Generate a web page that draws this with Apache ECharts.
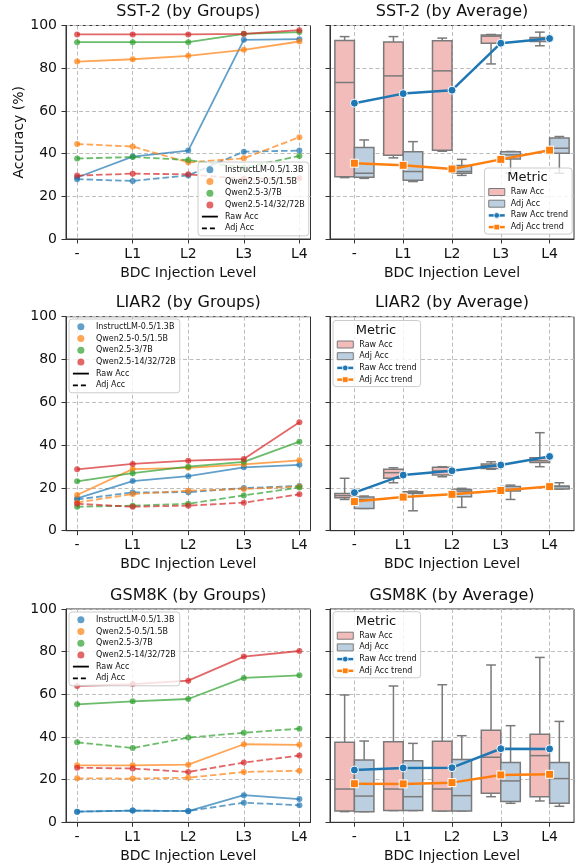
<!DOCTYPE html>
<html><head><meta charset="utf-8">
<script src="https://cdn.jsdelivr.net/npm/echarts@6/dist/echarts.min.js"></script>
<style>html,body{margin:0;padding:0;background:#fff}#c{width:575px;height:864px}</style>
</head><body><div id="c"></div><script>
// ---------- data ----------
const LEVELS = ['-', 'L1', 'L2', 'L3', 'L4'];
const GROUPS = ['InstructLM-0.5/1.3B', 'Qwen2.5-0.5/1.5B', 'Qwen2.5-3/7B', 'Qwen2.5-14/32/72B'];
const Y_TICKS = [0, 20, 40, 60, 80, 100];
const DATASETS = ['SST-2', 'LIAR2', 'GSM8K'];

// SST-2 by groups
const sst2RawInstructLM = [28.8, 38.6, 41.4, 93.3, 93.6];
const sst2RawQwen05 = [83.1, 84.2, 85.8, 88.6, 92.5];
const sst2RawQwen3 = [92.2, 92.2, 92.2, 96.1, 96.9];
const sst2RawQwen14 = [95.8, 95.8, 95.8, 96.1, 97.8];
const sst2AdjInstructLM = [28.0, 27.2, 29.8, 40.9, 41.4];
const sst2AdjQwen05 = [44.5, 43.3, 35.9, 37.8, 47.7];
const sst2AdjQwen3 = [37.7, 38.4, 37.0, 33.4, 38.9];
const sst2AdjQwen14 = [29.7, 30.6, 30.3, 28.2, 28.5];
// LIAR2 by groups
const liarRawInstructLM = [15.1, 23.2, 25.5, 29.6, 30.8];
const liarRawQwen05 = [16.7, 28.8, 29.4, 31.0, 32.9];
const liarRawQwen3 = [23.1, 26.9, 29.9, 32.2, 41.6];
const liarRawQwen14 = [28.7, 31.2, 32.7, 33.5, 50.7];
const liarAdjInstructLM = [14.6, 17.9, 18.0, 19.9, 20.9];
const liarAdjQwen05 = [13.2, 17.1, 18.7, 19.5, 20.6];
const liarAdjQwen3 = [11.2, 11.7, 12.6, 16.5, 20.2];
const liarAdjQwen14 = [12.6, 11.2, 11.7, 13.1, 17.0];
// GSM8K by groups
const gsmRawInstructLM = [5.0, 5.5, 5.2, 12.7, 10.9];
const gsmRawQwen05 = [26.7, 26.7, 27.0, 36.6, 36.3];
const gsmRawQwen3 = [55.3, 56.7, 57.8, 67.7, 68.9];
const gsmRawQwen14 = [63.9, 64.8, 66.4, 77.7, 80.3];
const gsmAdjInstructLM = [5.0, 5.5, 5.3, 9.2, 8.0];
const gsmAdjQwen05 = [20.6, 20.5, 20.9, 23.6, 24.2];
const gsmAdjQwen3 = [37.5, 34.8, 39.7, 42.0, 43.9];
const gsmAdjQwen14 = [25.6, 25.2, 23.6, 28.0, 31.3];

// box statistics per level: [min, Q1, median, Q3, max]
const sst2RawBox = [[28.75, 29.2, 73.3, 93.0, 94.8], [38.0, 39.2, 76.4, 92.3, 94.8], [41.1, 41.6, 78.75, 92.8, 94.1], [82.0, 91.7, 95.0, 95.5, 95.8], [90.5, 92.5, 93.6, 94.4, 96.9]];
const sst2AdjBox = [[28.4, 28.9, 30.8, 42.8, 46.4], [26.9, 27.5, 31.6, 40.9, 45.6], [29.8, 30.8, 31.6, 34.4, 37.3], [30.8, 37.5, 39.4, 40.9, 41.0], [30.8, 40.2, 42.5, 47.3, 48.0]];
const liarRawBox = [[14.6, 15.4, 16.4, 17.4, 24.5], [22.4, 24.5, 27.1, 28.7, 29.4], [25.2, 26.0, 27.9, 29.6, 29.9], [28.7, 29.1, 30.4, 31.2, 32.2], [29.9, 31.9, 32.7, 34.1, 45.8]];
const liarAdjBox = [[10.4, 10.4, 14.6, 15.7, 16.2], [9.3, 17.4, 17.9, 18.2, 18.5], [10.9, 15.9, 18.5, 19.3, 19.8], [14.6, 18.5, 19.3, 20.6, 21.3], [19.5, 19.5, 20.6, 20.9, 22.4]];
const gsmRawBox = [[5.0, 5.3, 15.6, 37.5, 59.7], [5.5, 5.5, 15.6, 37.8, 63.9], [5.3, 5.3, 15.6, 38.0, 64.5], [12.0, 13.6, 30.5, 43.1, 73.75], [10.0, 12.0, 31.25, 41.25, 77.3]];
const gsmAdjBox = [[5.0, 5.0, 12.3, 29.2, 38.1], [5.5, 5.5, 12.0, 28.9, 37.0], [5.3, 5.3, 12.5, 29.5, 40.6], [8.9, 9.7, 19.4, 28.0, 45.3], [7.5, 8.9, 20.5, 28.0, 47.3]];

// average trends
const sst2RawTrend = [63.6, 68.1, 69.7, 91.7, 93.9];
const sst2AdjTrend = [35.5, 34.5, 32.8, 37.3, 41.6];
const liarRawTrend = [17.8, 26.0, 28.0, 30.7, 34.7];
const liarAdjTrend = [13.6, 15.7, 17.0, 18.8, 20.6];
const gsmRawTrend = [24.5, 25.5, 25.6, 34.5, 34.4];
const gsmAdjTrend = [18.1, 18.0, 18.6, 22.2, 22.5];

// ---------- assembly ----------
const PANELS = [
  { raw: [sst2RawInstructLM, sst2RawQwen05, sst2RawQwen3, sst2RawQwen14], adj: [sst2AdjInstructLM, sst2AdjQwen05, sst2AdjQwen3, sst2AdjQwen14], rawBox: sst2RawBox, adjBox: sst2AdjBox, rawTrend: sst2RawTrend, adjTrend: sst2AdjTrend },
  { raw: [liarRawInstructLM, liarRawQwen05, liarRawQwen3, liarRawQwen14], adj: [liarAdjInstructLM, liarAdjQwen05, liarAdjQwen3, liarAdjQwen14], rawBox: liarRawBox, adjBox: liarAdjBox, rawTrend: liarRawTrend, adjTrend: liarAdjTrend },
  { raw: [gsmRawInstructLM, gsmRawQwen05, gsmRawQwen3, gsmRawQwen14], adj: [gsmAdjInstructLM, gsmAdjQwen05, gsmAdjQwen3, gsmAdjQwen14], rawBox: gsmRawBox, adjBox: gsmAdjBox, rawTrend: gsmRawTrend, adjTrend: gsmAdjTrend }
];

// ---------- style / layout ----------
const FONT = 'DejaVu Sans';
const TXT = '#111';
const COLORS = ['#1f77b4', '#ff7f0e', '#2ca02c', '#d62728'];
const RAW_FILL = '#f2bcbb', ADJ_FILL = '#bccfe0', EDGE = '#7a7a7a';
const DODGE = 0.2, BOX_W = 0.4;
const ROW_TOP = [25.5, 316.7, 609];
const ROW_H = [213.5, 214, 213.3];
const COL_X = [66, 330];
const COL_W = [244.5, 244];
const LEFT_LEGEND_TOP = [162, 319, 612];
const LEFT_LEGEND_LEFT = [198, 69, 69];
const RIGHT_LEGEND_TOP = [168, 320.5, 611.7];
const RIGHT_LEGEND_LEFT = [484.5, 333, 333];
const RIGHT_LEGEND_W = 86;

const grids = [], xAxes = [], yAxes = [], series = [], titles = [], legends = [], graphics = [];
const gridLine = { show: true, lineStyle: { color: '#bdbdbd', width: 1, type: [4, 2.5] } };
const tickStyle = { show: true, inside: false, length: 4.5, lineStyle: { color: '#333', width: 1 } };

function renderBox(params, api) {
  const x = api.value(0);
  const mn = api.coord([x, api.value(1)]);
  const q1 = api.coord([x, api.value(2)]);
  const md = api.coord([x, api.value(3)]);
  const q3 = api.coord([x, api.value(4)]);
  const mx = api.coord([x, api.value(5)]);
  const w = api.size([BOX_W, 0])[0];
  const cx = mn[0];
  const st = { stroke: EDGE, lineWidth: 1.5 };
  return {
    type: 'group', children: [
      { type: 'line', shape: { x1: cx, y1: mn[1], x2: cx, y2: q1[1] }, style: st },
      { type: 'line', shape: { x1: cx, y1: q3[1], x2: cx, y2: mx[1] }, style: st },
      { type: 'line', shape: { x1: cx - w / 4, y1: mn[1], x2: cx + w / 4, y2: mn[1] }, style: st },
      { type: 'line', shape: { x1: cx - w / 4, y1: mx[1], x2: cx + w / 4, y2: mx[1] }, style: st },
      { type: 'rect', shape: { x: cx - w / 2, y: q3[1], width: w, height: q1[1] - q3[1] }, style: { fill: api.visual('color'), stroke: EDGE, lineWidth: 1.5 } },
      { type: 'line', shape: { x1: cx - w / 2, y1: md[1], x2: cx + w / 2, y2: md[1] }, style: st }
    ]
  };
}

for (let r = 0; r < 3; r++) {
  const P = PANELS[r];
  for (let c = 0; c < 2; c++) {
    const gi = r * 2 + c;
    grids.push({ left: COL_X[c], top: ROW_TOP[r], width: COL_W[c], height: ROW_H[r], show: true, borderColor: '#333', borderWidth: 1, backgroundColor: 'transparent', containLabel: false, outerBoundsMode: 'none' });
    xAxes.push({
      gridIndex: gi, type: 'value', min: c === 0 ? -0.2 : -0.5, max: c === 0 ? 4.2 : 4.5,
      name: 'BDC Injection Level', nameLocation: 'middle', nameGap: 27,
      nameTextStyle: { fontFamily: FONT, fontSize: 14, color: TXT },
      axisLine: { show: true, onZero: false, lineStyle: { color: '#333', width: 1 } },
      axisTick: Object.assign({ customValues: [0, 1, 2, 3, 4] }, tickStyle),
      axisLabel: { customValues: [0, 1, 2, 3, 4], formatter: v => LEVELS[Math.round(v)], fontFamily: FONT, fontSize: 14, color: TXT, margin: 8 },
      splitLine: gridLine
    });
    yAxes.push({
      gridIndex: gi, type: 'value', min: 0, max: 100, interval: 20,
      name: gi === 0 ? 'Accuracy (%)' : '', nameLocation: 'middle', nameGap: 40,
      nameTextStyle: { fontFamily: FONT, fontSize: 14, color: TXT },
      axisLine: { show: true, onZero: false, lineStyle: { color: '#333', width: 1 } },
      axisTick: tickStyle,
      axisLabel: { show: c === 0, fontFamily: FONT, fontSize: 14, color: TXT, margin: 9 },
      splitLine: gridLine
    });
    titles.push({
      text: DATASETS[r] + (c === 0 ? ' (by Groups)' : ' (by Average)'),
      left: COL_X[c] + COL_W[c] / 2, top: ROW_TOP[r] - 21.5, textAlign: 'center', padding: 0,
      textStyle: { fontFamily: FONT, fontSize: 16, fontWeight: 'normal', color: TXT }
    });
    if (c === 0) {
      for (let g = 0; g < 4; g++) {
        const base = { type: 'line', name: GROUPS[g], xAxisIndex: gi, yAxisIndex: gi, color: COLORS[g], symbol: 'circle', symbolSize: 6, animation: false, z: 3 };
        series.push(Object.assign({}, base, { data: P.raw[g].map((v, i) => [i, v]), lineStyle: { width: 1.8, opacity: 0.7 }, itemStyle: { opacity: 0.7, borderWidth: 0 } }));
        series.push(Object.assign({}, base, { data: P.adj[g].map((v, i) => [i, v]), lineStyle: { width: 1.8, opacity: 0.7, type: [6.5, 3] }, itemStyle: { opacity: 0.7, borderWidth: 0 } }));
      }
    } else {
      series.push({ type: 'custom', name: 'Raw Acc box', xAxisIndex: gi, yAxisIndex: gi, renderItem: renderBox, encode: { x: 0, y: [1, 2, 3, 4, 5] }, data: P.rawBox.map((b, i) => [i - DODGE].concat(b)), itemStyle: { color: RAW_FILL, borderColor: EDGE, borderWidth: 1.2 }, z: 2, animation: false });
      series.push({ type: 'custom', name: 'Adj Acc box', xAxisIndex: gi, yAxisIndex: gi, renderItem: renderBox, encode: { x: 0, y: [1, 2, 3, 4, 5] }, data: P.adjBox.map((b, i) => [i + DODGE].concat(b)), itemStyle: { color: ADJ_FILL, borderColor: EDGE, borderWidth: 1.2 }, z: 2, animation: false });
      series.push({ type: 'line', name: 'Raw Acc trend', xAxisIndex: gi, yAxisIndex: gi, color: '#1f77b4', data: P.rawTrend.map((v, i) => [i, v]), symbol: 'circle', symbolSize: 8, lineStyle: { width: 2.5 }, itemStyle: { borderColor: '#fff', borderWidth: 1 }, z: 5, animation: false });
      series.push({ type: 'line', name: 'Adj Acc trend', xAxisIndex: gi, yAxisIndex: gi, color: '#ff7f0e', data: P.adjTrend.map((v, i) => [i, v]), symbol: 'rect', symbolSize: 8, lineStyle: { width: 2.5 }, itemStyle: { borderColor: '#fff', borderWidth: 1 }, z: 5, animation: false });
    }
  }
  legends.push({
    orient: 'vertical', left: LEFT_LEGEND_LEFT[r], top: LEFT_LEGEND_TOP[r], padding: [3.8, 4, 3.5, 3],
    itemWidth: 16, itemHeight: 7, itemGap: 3.7, selectedMode: false,
    backgroundColor: 'rgba(255,255,255,0.8)', borderColor: '#cccccc', borderWidth: 1, borderRadius: 3,
    textStyle: { fontFamily: FONT, fontSize: 8, color: TXT, padding: [0, 0, 0, 2] },
    data: GROUPS.map(n => ({ name: n, icon: 'circle' })).concat([
      { name: 'Raw Acc', itemStyle: { opacity: 0 }, lineStyle: { color: '#000', width: 1.8, type: 'solid', opacity: 1 } },
      { name: 'Adj Acc', itemStyle: { opacity: 0 }, lineStyle: { color: '#000', width: 1.8, type: [5, 3], opacity: 1 } }
    ])
  });
  legends.push({
    orient: 'vertical', left: RIGHT_LEGEND_LEFT[r], top: RIGHT_LEGEND_TOP[r], padding: [20, 4, 3, 3],
    itemWidth: 16, itemHeight: 7, itemGap: 3.7, selectedMode: false,
    backgroundColor: 'rgba(255,255,255,0.8)', borderColor: '#cccccc', borderWidth: 1, borderRadius: 3,
    textStyle: { fontFamily: FONT, fontSize: 8, color: TXT, padding: [0, 0, 0, 1] },
    formatter: n => n.replace(' box', ''),
    data: [
      { name: 'Raw Acc box', icon: 'rect', itemStyle: { color: RAW_FILL, borderColor: EDGE, borderWidth: 1 } },
      { name: 'Adj Acc box', icon: 'rect', itemStyle: { color: ADJ_FILL, borderColor: EDGE, borderWidth: 1 } },
      { name: 'Raw Acc trend', lineStyle: { width: 2.5, type: 'solid', color: '#1f77b4', opacity: 1 }, itemStyle: { borderColor: '#fff', borderWidth: 0.8 } },
      { name: 'Adj Acc trend', lineStyle: { width: 2.5, type: 'solid', color: '#ff7f0e', opacity: 1 }, itemStyle: { borderColor: '#fff', borderWidth: 0.8 } }
    ]
  });
  graphics.push({ type: 'text', x: RIGHT_LEGEND_LEFT[r] + RIGHT_LEGEND_W / 2, y: RIGHT_LEGEND_TOP[r] + 10, z: 100, style: { text: 'Metric', fontFamily: FONT, fontSize: 13, fill: TXT, textAlign: 'center', textVerticalAlign: 'middle' } });
}
// legend-only style keys for line types
series.push({ type: 'line', name: 'Raw Acc', xAxisIndex: 0, yAxisIndex: 0, data: [], symbol: 'none', color: '#000', lineStyle: { width: 1.8 } });
series.push({ type: 'line', name: 'Adj Acc', xAxisIndex: 0, yAxisIndex: 0, data: [], symbol: 'none', color: '#000', lineStyle: { width: 1.8, type: [5, 3] } });

const chart = echarts.init(document.getElementById('c'), null, { renderer: 'canvas' });
chart.setOption({
  animation: false, backgroundColor: '#fff',
  title: titles, grid: grids, xAxis: xAxes, yAxis: yAxes, legend: legends, series: series,
  graphic: { elements: graphics }
});
</script></body></html>
